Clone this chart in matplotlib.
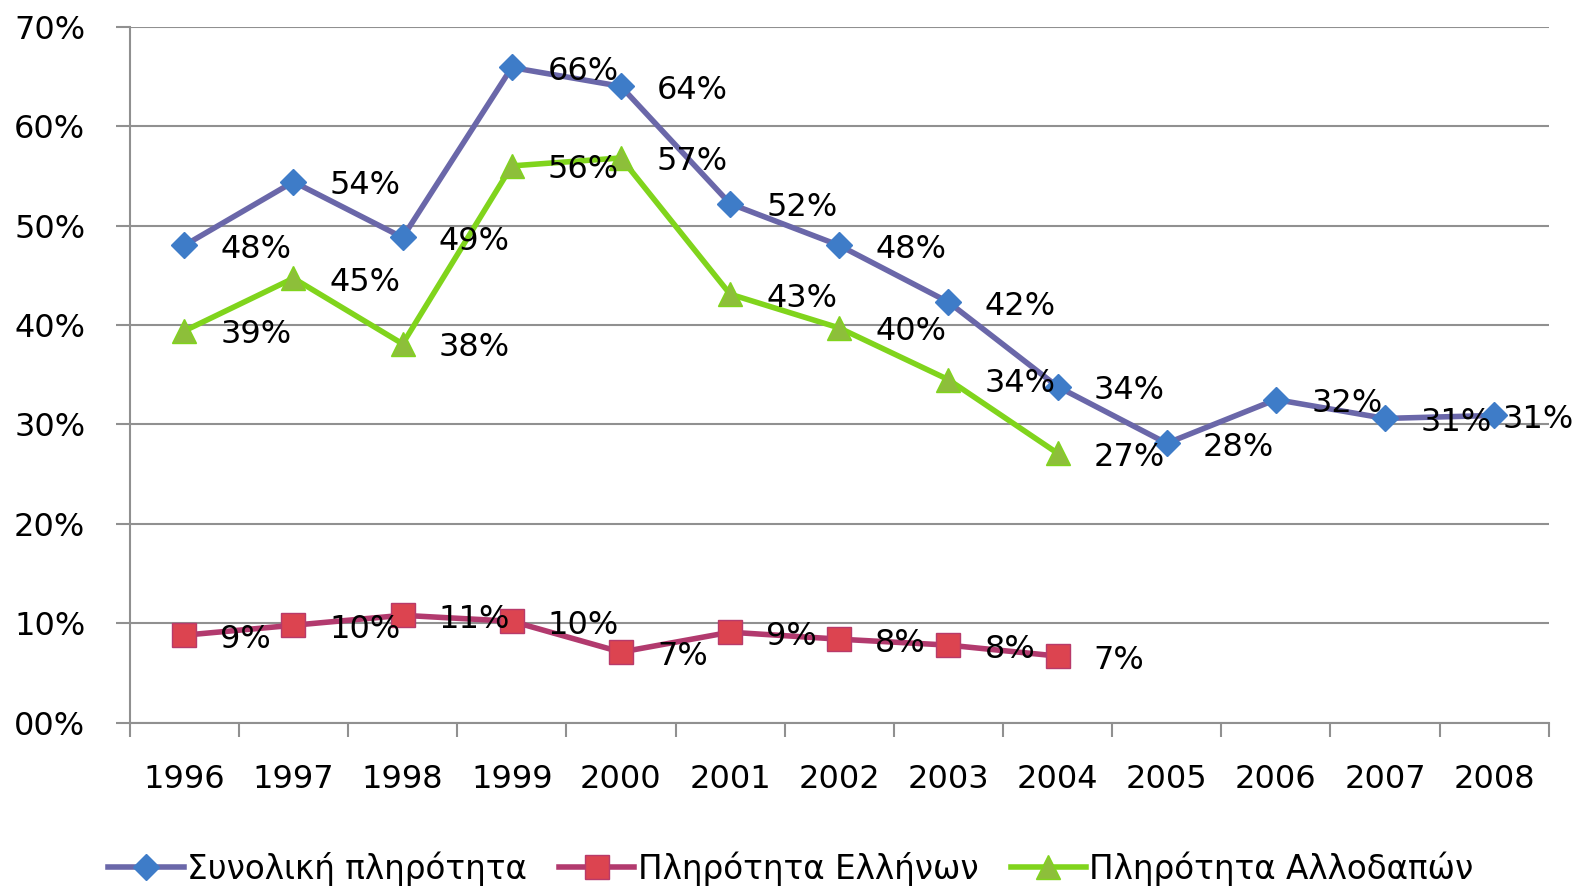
import matplotlib
matplotlib.use("Agg")
import matplotlib.pyplot as plt
from matplotlib.ticker import FuncFormatter

years = ["1996", "1997", "1998", "1999", "2000", "2001", "2002",
         "2003", "2004", "2005", "2006", "2007", "2008"]
total = [48.0, 54.4, 48.8, 65.9, 64.0, 52.2, 48.0, 42.3, 33.8, 28.1, 32.5, 30.6, 30.9]
greeks = [8.8, 9.8, 10.8, 10.2, 7.1, 9.1, 8.4, 7.8, 6.7]
foreign = [39.4, 44.7, 38.1, 56.0, 56.8, 43.1, 39.7, 34.5, 27.1]
names = ["Συνολική πληρότητα", "Πληρότητα Ελλήνων", "Πληρότητα Αλλοδαπών"]

plt.rcParams["font.family"] = ["DejaVu Sans"]

fig = plt.figure(figsize=(15.82, 8.9), dpi=100)
ax = fig.add_axes([0.082, 0.188, 0.897, 0.782])

styles = [
    (total, dict(color="#6A67A9", marker="D", markersize=13, markerfacecolor="#3E7CC8",
                 markeredgecolor="#3E7CC8")),
    (greeks, dict(color="#B23A6E", marker="s", markersize=17, markerfacecolor="#DC4450",
                  markeredgecolor="#B83A6A")),
    (foreign, dict(color="#80D41C", marker="^", markersize=17, markerfacecolor="#8DBF3A",
                   markeredgecolor="#80D41C")),
]

for (vals, st), name in zip(styles, names):
    x = list(range(len(vals)))
    ax.plot(x, vals, linewidth=4, label=name, zorder=3, **st)
    for xi, v in zip(x, vals):
        dx = 36 if xi < len(years) - 1 else 8
        ax.annotate("%d%%" % round(v), (xi, v), xytext=(dx, -4), textcoords="offset pixels",
                    ha="left", va="center", fontsize=23, color="black", zorder=5)

ax.set_xlim(-0.5, len(years) - 0.5)
ax.set_ylim(0, 70)
ax.set_yticks(range(0, 71, 10))
ax.yaxis.set_major_formatter(FuncFormatter(lambda v, p: "%02d%%" % v))
ax.set_xticks(range(len(years)))
ax.set_xticklabels(years)
ax.set_xticks([i - 0.5 for i in range(len(years) + 1)], minor=True)
ax.tick_params(axis="x", which="major", length=0, pad=30, labelsize=23)
ax.tick_params(axis="x", which="minor", length=10, color="#909090", width=1.5)
ax.tick_params(axis="y", length=10, color="#909090", width=1.5, labelsize=23, pad=22)
ax.grid(axis="y", color="#909090", linewidth=1.5)
ax.set_axisbelow(True)
for s in ["top", "right"]:
    ax.spines[s].set_visible(False)
for s in ["left", "bottom"]:
    ax.spines[s].set_color("#909090")
    ax.spines[s].set_linewidth(1.5)

fig.legend(loc="lower center", bbox_to_anchor=(0.5, -0.028), ncol=3, frameon=False,
           fontsize=23.5, handlelength=2.3, handletextpad=0.1, columnspacing=1.0)

fig.savefig("out.png", dpi=100)
